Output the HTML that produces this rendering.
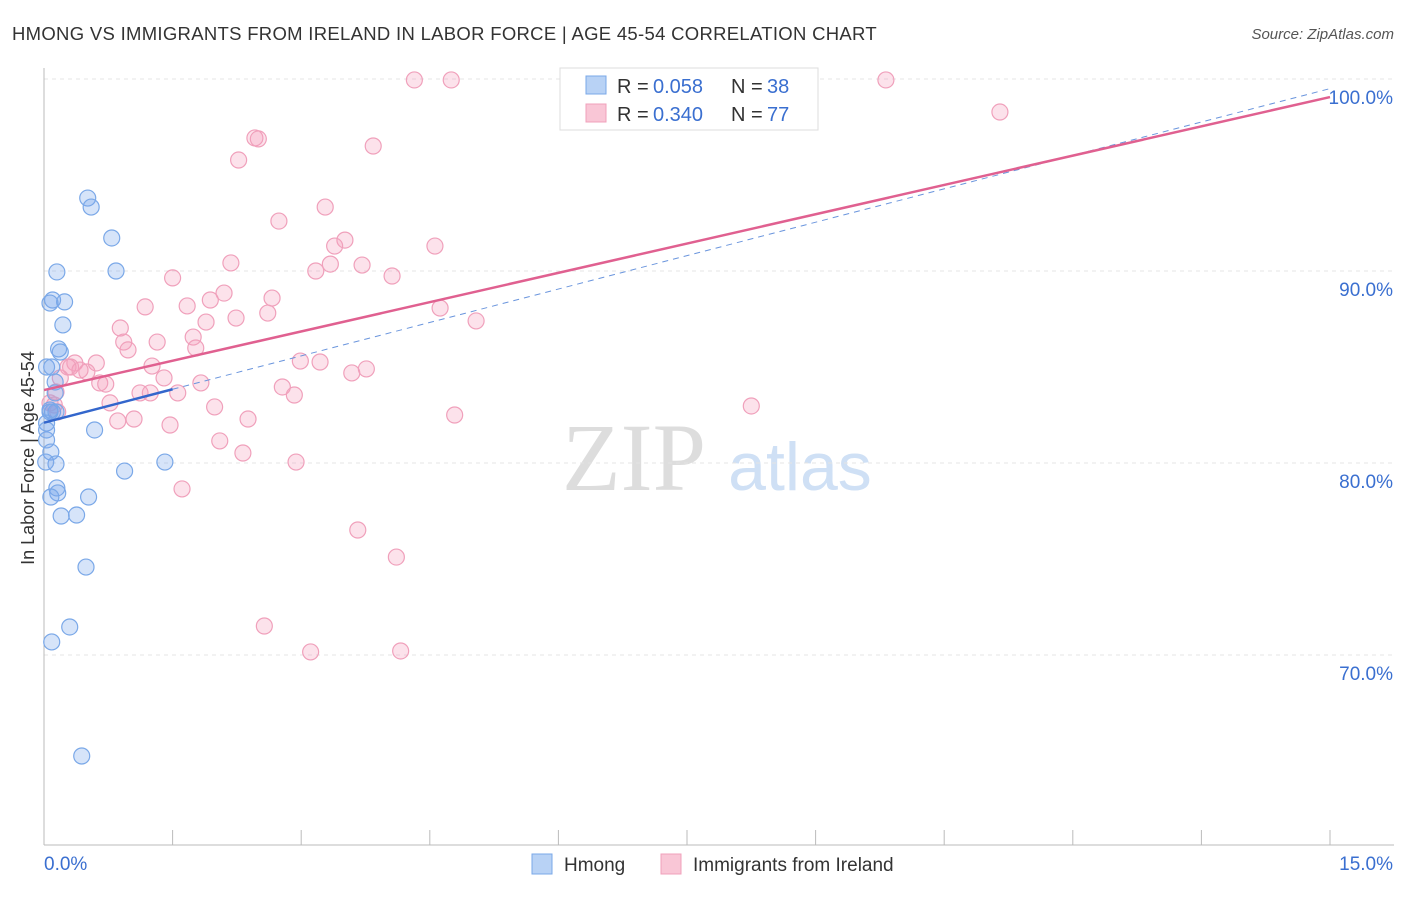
<!DOCTYPE html>
<html><head><meta charset="utf-8"><style>
body{margin:0;background:#fff;font-family:"Liberation Sans",sans-serif}
svg text{font-family:"Liberation Sans",sans-serif}
</style></head><body>
<svg id="c" width="1406" height="892">
<text x="12" y="40" font-size="18.5" fill="#333" letter-spacing="0.3">HMONG VS IMMIGRANTS FROM IRELAND IN LABOR FORCE | AGE 45-54 CORRELATION CHART</text>
<text x="1394" y="39" font-size="15" fill="#555" text-anchor="end" font-style="italic">Source: ZipAtlas.com</text>
<text x="34" y="458" font-size="18" fill="#333" text-anchor="middle" transform="rotate(-90 34 458)">In Labor Force | Age 45-54</text>
<g><text x="634" y="490" font-size="96" fill="#ddd" text-anchor="middle" font-family="Liberation Serif" style="font-family:'Liberation Serif',serif">ZIP</text><text x="800" y="490" font-size="68" fill="#cfe0f5" text-anchor="middle">atlas</text></g>
<g id="grid"></g><g id="axes"></g><g id="pts"></g><g id="lines"></g>
<g>
<rect x="560" y="68" width="258" height="62" fill="#fff" stroke="#ddd"/>
<rect x="586" y="76" width="20" height="18" fill="#b8d2f5" stroke="#7aa8e8"/>
<text x="617" y="93" font-size="20" fill="#333">R =</text><text x="653" y="93" font-size="20" fill="#3a6fd0">0.058</text>
<text x="731" y="93" font-size="20" fill="#333">N =</text><text x="767" y="93" font-size="20" fill="#3a6fd0">38</text>
<rect x="586" y="104" width="20" height="18" fill="#f9c6d6" stroke="#f0a0bb"/>
<text x="617" y="121" font-size="20" fill="#333">R =</text><text x="653" y="121" font-size="20" fill="#3a6fd0">0.340</text>
<text x="731" y="121" font-size="20" fill="#333">N =</text><text x="767" y="121" font-size="20" fill="#3a6fd0">77</text>
</g>
<g>
<rect x="532" y="854" width="20" height="20" fill="#b8d2f5" stroke="#7aa8e8"/>
<text x="564" y="871" font-size="19" fill="#333">Hmong</text>
<rect x="661" y="854" width="20" height="20" fill="#f9c6d6" stroke="#f0a0bb"/>
<text x="693" y="871" font-size="19" fill="#333">Immigrants from Ireland</text>
</g>
</svg>
<script>
const yTicks=[70,80,90,100];
const yTickLabels=["70.0%","80.0%","90.0%","100.0%"];
const xTicks=[0,1.5,3,4.5,6,7.5,9,10.5,12,13.5,15];
const blueX=[0.51,0.55,0.79,0.15,0.84,0.10,0.07,0.24,0.22,0.17,0.19,0.03,0.09,0.13,0.13,0.10,0.14,0.07,0.03,0.03,0.08,0.14,0.02,0.59,0.15,0.16,0.08,0.52,0.2,0.38,0.49,0.94,1.41,0.3,0.09,0.44,0.03,0.07];
const blueY=[93.8,93.33,91.72,89.95,90.0,88.49,88.33,88.39,87.19,85.94,85.78,85.0,85.0,84.22,83.65,82.66,82.66,82.66,82.08,81.2,80.57,79.95,80.05,81.72,78.7,78.44,78.23,78.23,77.24,77.29,74.58,79.58,80.05,71.46,70.68,64.74,81.72,82.76];
const pinkX=[4.32,4.75,9.82,11.15,2.46,2.50,3.84,2.27,2.74,3.28,4.56,3.51,3.39,2.18,3.17,3.34,3.71,4.06,1.50,1.18,1.67,1.94,2.10,2.66,2.61,2.24,1.89,0.89,0.93,0.98,1.32,1.74,1.77,4.62,5.04,2.99,3.22,3.76,3.59,0.36,0.61,0.28,0.5,0.19,1.26,1.40,0.65,0.72,1.12,1.24,1.56,1.83,2.78,2.92,0.77,0.86,1.05,1.47,1.99,2.38,2.05,2.32,2.94,1.61,4.79,8.25,3.66,4.11,2.57,3.11,4.16,0.12,0.16,0.14,0.31,0.07,0.42];
const pinkY=[99.95,99.95,99.95,98.28,96.93,96.88,96.51,95.78,92.6,93.33,91.3,91.61,91.3,90.42,90.0,90.36,90.31,89.74,89.64,88.13,88.18,88.49,88.85,88.59,87.81,87.55,87.34,87.03,86.3,85.89,86.3,86.56,85.99,88.07,87.4,85.31,85.26,84.9,84.69,85.21,85.21,85.0,84.74,84.43,85.05,84.43,84.17,84.11,83.65,83.65,83.65,84.17,83.96,83.54,83.13,82.19,82.29,81.98,82.92,82.29,81.15,80.52,80.05,78.65,82.5,82.97,76.51,75.1,71.51,70.16,70.21,83.02,82.66,83.7,85.0,83.13,84.84];
const blueFit=[82.1,99.5];
const pinkFit=[83.8,99.06];
const NS="http://www.w3.org/2000/svg";
const X=v=>44+v*(1286/15);
const Y=v=>79+(100-v)*19.2;
function mk(p,t,a){const e=document.createElementNS(NS,t);for(const k in a)e.setAttribute(k,a[k]);document.getElementById(p).appendChild(e);return e;}
yTicks.forEach((t,i)=>{
 const g=mk('grid','line',{x1:44,x2:1394,y1:Y(t),y2:Y(t),stroke:'#e4e4e4','stroke-dasharray':'4,4'});
 
 
 const l=mk('axes','text',{x:1393,y:Y(t)+25,'font-size':19,fill:'#3a6fd0','text-anchor':'end'});
 l.textContent=yTickLabels[i];
 
 
});
let ax=mk('axes','line',{x1:44,x2:44,y1:68,y2:845,stroke:'#bbb'});


ax=mk('axes','line',{x1:44,x2:1394,y1:845,y2:845,stroke:'#bbb'});


xTicks.forEach(t=>{const e=mk('axes','line',{x1:X(t),x2:X(t),y1:830,y2:845,stroke:'#bbb'});
 
 });
let xl=mk('axes','text',{x:44,y:870,'font-size':19,fill:'#3a6fd0'});xl.textContent='0.0%';


xl=mk('axes','text',{x:1393,y:870,'font-size':19,fill:'#3a6fd0','text-anchor':'end'});xl.textContent='15.0%';


pinkX.forEach((v,i)=>{const c=mk('pts','circle',{cx:X(v),cy:Y(pinkY[i]),r:8,fill:'rgba(244,160,188,0.3)',stroke:'#f0a0bb','stroke-width':1.2});
 
 });
blueX.forEach((v,i)=>{const c=mk('pts','circle',{cx:X(v),cy:Y(blueY[i]),r:8,fill:'rgba(120,165,235,0.3)',stroke:'#7aa8e8','stroke-width':1.2});
 
 });
const bl=v=>blueFit[0]+(blueFit[1]-blueFit[0])*v/15;
let ln=mk('lines','line',{x1:X(1.5),y1:Y(bl(1.5)),x2:X(15),y2:Y(bl(15)),stroke:'#6a95dd','stroke-width':1,'stroke-dasharray':'6,5'});


ln=mk('lines','line',{x1:X(0),y1:Y(bl(0)),x2:X(1.5),y2:Y(bl(1.5)),stroke:'#3366cc','stroke-width':2.5});


ln=mk('lines','line',{x1:X(0),y1:Y(pinkFit[0]),x2:X(15),y2:Y(pinkFit[1]),stroke:'#e06090','stroke-width':2.5});


</script>
</body></html>
